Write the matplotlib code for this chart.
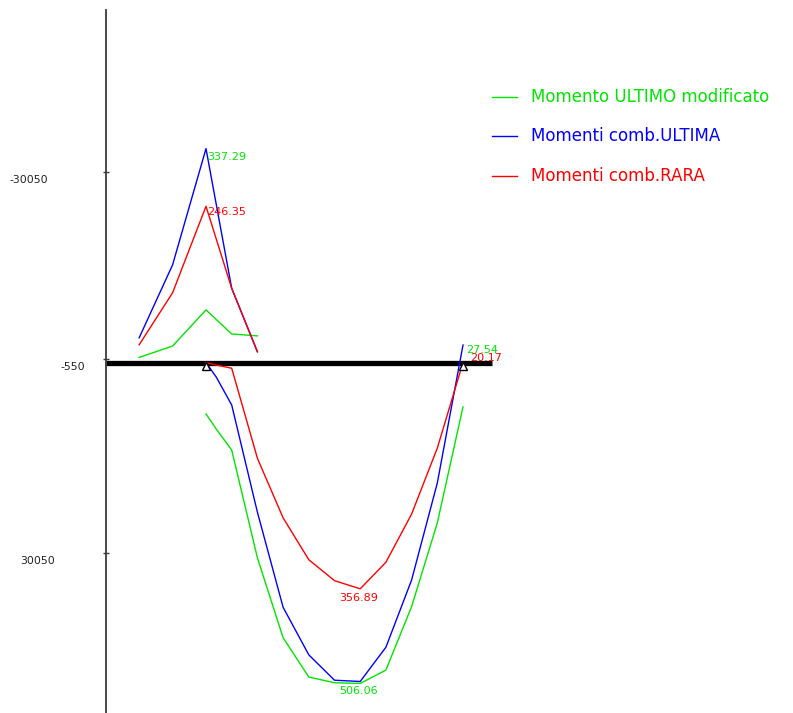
import matplotlib
matplotlib.use("Agg")
import matplotlib.pyplot as plt
from matplotlib.lines import Line2D

# ---- data (moments in kNm; axis shows kNm*100) ----
hog_x = [-2.6, -1.3, 0.0, 1.0, 2.0]
hog_green = [-8, -26, -83, -45, -42]
hog_blue = [-39, -154, -337.29, -117, -17]
hog_red = [-28, -110, -246.35, -117, -17]

span_x = [0, 0.4, 1, 2, 3, 4, 5, 6, 7, 8, 9, 10]
span_green = [81, 105, 138, 308, 434, 496, 505, 506.06, 485, 385, 253, 70]
span_blue = [0, 23, 67, 236, 386, 461, 501, 503, 449, 343, 190, -27.54]
span_red = [0, 4, 9, 151, 245, 311, 344, 356.89, 315, 239, 135, 0]

supports_x = [0, 10]
beam_x = [-3.891, 11.13]

ytick_vals = [-300.50, -5.50, 300.50]
ytick_labels = ["-30050", "-550", "30050"]

series_names = ["Momento ULTIMO modificato", "Momenti comb.ULTIMA", "Momenti comb.RARA"]
GREEN, BLUE, RED = "#00e600", "#0000ff", "#ff0000"
colors = [GREEN, BLUE, RED]

fig = plt.figure(figsize=(7.93, 7.13), dpi=100)
ax = fig.add_axes([106 / 793, 0, 1 - 106 / 793, 703 / 713])
ax.set_xlim(-3.891, 22.84)
ax.set_ylim(552.7, -555.9)

for sp in ["top", "right", "bottom"]:
    ax.spines[sp].set_visible(False)
ax.spines["left"].set_color("#3a3a3a")
ax.spines["left"].set_linewidth(1.3)
ax.set_xticks([])
ax.set_yticks(ytick_vals)
ax.set_yticklabels([])
ax.tick_params(axis="y", direction="inout", length=4, width=1, color="#3a3a3a")

# tick labels positioned as in reference
label_dx = [-58, -21, -51]
for v, t, dx in zip(ytick_vals, ytick_labels, label_dx):
    ax.annotate(t, xy=(0, v), xycoords=("axes fraction", "data"),
                xytext=(dx, -8), textcoords="offset pixels",
                ha="right", va="center", fontsize=7.8, color="#222222")

# beam
ax.plot(beam_x, [0, 0], color="black", lw=3.8, solid_capstyle="butt", zorder=2)

# curves
lw = 1.0
ax.plot(hog_x, hog_green, color=GREEN, lw=lw, zorder=3)
ax.plot(span_x, span_green, color=GREEN, lw=lw, zorder=3)
ax.plot(hog_x, hog_blue, color=BLUE, lw=lw, zorder=4)
ax.plot(span_x, span_blue, color=BLUE, lw=lw, zorder=4)
ax.plot(hog_x, hog_red, color=RED, lw=lw, zorder=5)
ax.plot(span_x, span_red, color=RED, lw=lw, zorder=5)

# supports
ax.plot(supports_x, [5.5, 5.5], linestyle="none", marker="^", markersize=6,
        markerfacecolor="white", markeredgecolor="black", markeredgewidth=1, zorder=6)

# value labels
fs = 8
ax.annotate("337.29", xy=(0, -337.29), xytext=(1, -8), textcoords="offset pixels",
            ha="left", va="center", fontsize=fs, color=GREEN, zorder=7)
ax.annotate("246.35", xy=(0, -246.35), xytext=(1, -6), textcoords="offset pixels",
            ha="left", va="center", fontsize=fs, color=RED, zorder=7)
ax.annotate("356.89", xy=(6, 356.89), xytext=(-2, -9), textcoords="offset pixels",
            ha="center", va="center", fontsize=fs, color=RED, zorder=7)
ax.annotate("506.06", xy=(6, 506.06), xytext=(-2, -8), textcoords="offset pixels",
            ha="center", va="center", fontsize=fs, color=GREEN, zorder=7)
ax.annotate("20.17", xy=(10, 0), xytext=(7, 5), textcoords="offset pixels",
            ha="left", va="center", fontsize=fs, color=RED, zorder=7)
ax.annotate("27.54", xy=(10, -27.54), xytext=(3, -5), textcoords="offset pixels",
            ha="left", va="center", fontsize=fs, color=GREEN, zorder=8)

# legend (manual, figure coordinates)
rows_py = [97, 136, 176]
for name, c, py in zip(series_names, colors, rows_py):
    yf = 1 - py / 713
    fig.add_artist(Line2D([492 / 793, 517 / 793], [yf, yf], color=c, lw=1.0))
    fig.text(531 / 793, yf, name, color=c, fontsize=12, ha="left", va="center")

fig.savefig("out.png", dpi=100)
